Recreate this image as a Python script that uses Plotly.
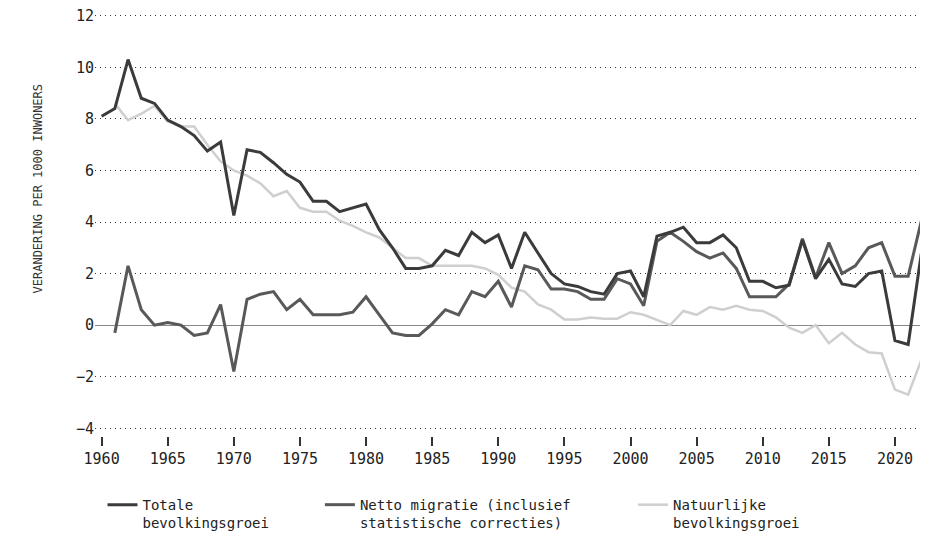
import plotly.graph_objects as go

years_total = list(range(1960, 2023))
years_comp = list(range(1961, 2023))

totale = [8.1, 8.4, 10.3, 8.8, 8.6, 7.95, 7.7, 7.35, 6.75, 7.1,
          4.25, 6.8, 6.7, 6.3, 5.85, 5.55, 4.8, 4.8, 4.4, 4.55,
          4.7, 3.7, 3.0, 2.2, 2.2, 2.3, 2.9, 2.7, 3.6, 3.2,
          3.5, 2.2, 3.6, 2.8, 2.0, 1.6, 1.5, 1.3, 1.2, 2.0,
          2.1, 1.1, 3.45, 3.6, 3.8, 3.2, 3.2, 3.5, 3.0, 1.7,
          1.7, 1.45, 1.55, 3.3, 1.8, 2.55, 1.6, 1.5, 2.0, 2.1,
          -0.6, -0.75, 2.8]

migratie = [-0.3, 2.3, 0.6, 0.0, 0.1, 0.0, -0.4, -0.3, 0.8,
            -1.8, 1.0, 1.2, 1.3, 0.6, 1.0, 0.4, 0.4, 0.4, 0.5,
            1.1, 0.4, -0.3, -0.4, -0.4, 0.05, 0.6, 0.4, 1.3, 1.1,
            1.7, 0.7, 2.3, 2.15, 1.4, 1.4, 1.3, 1.0, 1.0, 1.8,
            1.6, 0.75, 3.25, 3.6, 3.25, 2.85, 2.6, 2.8, 2.2, 1.1,
            1.1, 1.1, 1.6, 3.35, 1.85, 3.2, 2.0, 2.3, 3.0, 3.2,
            1.9, 1.9, 4.05]

natuurlijk = [8.6, 7.95, 8.2, 8.5, 7.9, 7.7, 7.7, 7.0, 6.35,
              6.0, 5.8, 5.5, 5.0, 5.2, 4.55, 4.4, 4.4, 4.05, 3.85,
              3.6, 3.4, 3.0, 2.6, 2.6, 2.3, 2.3, 2.3, 2.3, 2.2,
              1.95, 1.45, 1.3, 0.8, 0.6, 0.22, 0.22, 0.3, 0.25, 0.25,
              0.5, 0.4, 0.2, 0.0, 0.55, 0.4, 0.7, 0.6, 0.75, 0.6,
              0.55, 0.3, -0.1, -0.3, 0.0, -0.7, -0.3, -0.75, -1.05, -1.1,
              -2.5, -2.7, -1.35]

labels = ["Totale<br>bevolkingsgroei",
          "Netto migratie (inclusief<br>statistische correcties)",
          "Natuurlijke<br>bevolkingsgroei"]
y_title = "VERANDERING PER 1000 INWONERS"
x_ticks = list(range(1960, 2021, 5))
y_ticks = list(range(-4, 13, 2))

MONO = "DejaVu Sans Mono"

fig = go.Figure()
fig.add_trace(go.Scatter(x=years_comp, y=natuurlijk, mode="lines", name=labels[2],
                         line=dict(color="#cfcfcf", width=2.5), legend="legend3",
                         showlegend=True))
fig.add_trace(go.Scatter(x=years_comp, y=migratie, mode="lines", name=labels[1],
                         line=dict(color="#595959", width=3), legend="legend2",
                         showlegend=True))
fig.add_trace(go.Scatter(x=years_total, y=totale, mode="lines", name=labels[0],
                         line=dict(color="#3b3b3b", width=3), legend="legend",
                         showlegend=True))

leg_common = dict(orientation="v", xanchor="left", yanchor="top", y=-0.124,
                  font=dict(family=MONO, size=14, color="#222"),
                  bgcolor="rgba(0,0,0,0)", valign="top", tracegroupgap=0)

fig.update_layout(
    width=920, height=534,
    showlegend=True,
    margin=dict(l=87, r=0, t=0, b=106),
    plot_bgcolor="white", paper_bgcolor="white",
    xaxis=dict(range=[1959.5, 2022.5], tickvals=x_ticks, showgrid=False,
               zeroline=False, showline=False, ticks="outside", ticklen=9,
               tickwidth=1.5, tickcolor="#333", ticklabelstandoff=0,
               tickfont=dict(family=MONO, size=15, color="#222")),
    yaxis=dict(range=[-4.3, 12.3], tickvals=y_ticks, showgrid=True,
               gridcolor="#333", griddash="1px,4px", gridwidth=1,
               zeroline=True, zerolinecolor="#888", zerolinewidth=1,
               showline=False, ticks="", ticklabeloverflow="allow",
               tickfont=dict(family=MONO, size=15, color="#222")),
    legend=dict(x=0.009, **leg_common),
    legend2=dict(x=0.27, **leg_common),
    legend3=dict(x=0.646, **leg_common),
    annotations=[dict(text=y_title, textangle=-90, xref="paper", yref="y",
                      x=0, y=5.3, xshift=-57, xanchor="center", yanchor="middle",
                      showarrow=False,
                      font=dict(family=MONO, size=12, color="#333"))],
)

fig.write_html("out.html")
